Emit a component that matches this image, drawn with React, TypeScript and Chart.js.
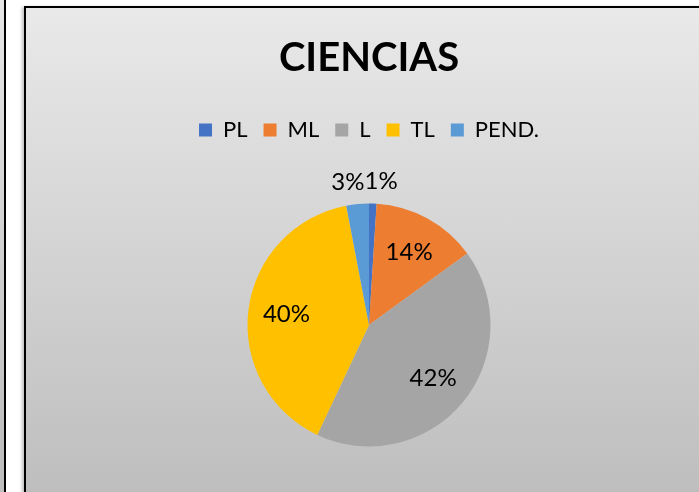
import React, { useEffect, useRef } from "react";
import { Chart, registerables } from "chart.js";

Chart.register(...registerables);

const titleText = "CIENCIAS";
const categories = ["PL", "ML", "L", "TL", "PEND."];
const values = [1, 14, 42, 40, 3];
const colors = ["#4472C4", "#ED7D31", "#A5A5A5", "#FFC000", "#5B9BD5"];

const FONT = "Lato, 'Open Sans', sans-serif";

const labelPlugin = {
  id: "pctLabels",
  afterDatasetsDraw(chart: any) {
    const ctx = chart.ctx;
    const meta = chart.getDatasetMeta(0);
    const data = chart.data.datasets[0].data as number[];
    const total = data.reduce((a, b) => a + b, 0);
    ctx.save();
    ctx.font = `24px ${FONT}`;
    ctx.fillStyle = "#000";
    ctx.textBaseline = "middle";
    ctx.textAlign = "center";
    const outside: any[] = [];
    meta.data.forEach((arc: any, i: number) => {
      const { x, y, startAngle, endAngle, outerRadius } = arc.getProps(
        ["x", "y", "startAngle", "endAngle", "outerRadius"],
        true
      );
      const pct = Math.round((data[i] / total) * 100);
      const text = pct + "%";
      const mid = (startAngle + endAngle) / 2;
      if (pct >= 5) {
        const r = outerRadius * 0.685;
        ctx.fillText(text, x + Math.cos(mid) * r, y + Math.sin(mid) * r);
      } else {
        const r = outerRadius + 22;
        const w = ctx.measureText(text).width;
        outside.push({ text, cx: x + Math.cos(mid) * r, cy: y + Math.sin(mid) * r, w });
      }
    });
    outside.sort((a, b) => a.cx - b.cx);
    for (let k = 1; k < outside.length; k++) {
      const a = outside[k - 1];
      const b = outside[k];
      if (Math.abs(a.cy - b.cy) < 24) {
        const need = (a.w + b.w) / 2 - (b.cx - a.cx);
        if (need > 0) {
          a.cx -= need / 2;
          b.cx += need / 2;
        }
      }
    }
    outside.forEach((o) => ctx.fillText(o.text, o.cx, o.cy));
    ctx.restore();
  },
};

const legendGap = {
  id: "legendGap",
  beforeInit(chart: any) {
    const legend = chart.legend;
    if (!legend) return;
    const origFit = legend.fit;
    legend.fit = function () {
      origFit.call(this);
      this.height += 52.5;
    };
  },
};

const grad = "linear-gradient(to bottom, #e9e9e9 0px, #bebebe 484px)";

export default function App() {
  const ref = useRef<HTMLCanvasElement | null>(null);

  useEffect(() => {
    if (!ref.current) return;
    const chart = new Chart(ref.current, {
      type: "pie",
      data: {
        labels: categories,
        datasets: [
          {
            data: values,
            backgroundColor: colors,
            borderWidth: 0,
          },
        ],
      },
      options: {
        responsive: false,
        animation: false,
        layout: { padding: { top: 0, bottom: 45.5, left: 0, right: 0 } },
        plugins: {
          title: {
            display: true,
            text: titleText,
            color: "#000",
            font: { family: FONT, size: 40, weight: "bold" },
            padding: { top: 26, bottom: 21 },
          },
          legend: {
            display: true,
            position: "top",
            labels: {
              boxWidth: 13,
              boxHeight: 13,
              padding: 16,
              color: "#000",
              font: { family: FONT, size: 22 },
            },
          },
          tooltip: { enabled: false },
        },
      },
      plugins: [legendGap, labelPlugin],
    } as any);
    return () => chart.destroy();
  }, []);

  return (
    <div
      style={{
        position: "absolute",
        left: 0,
        top: 0,
        width: 699,
        height: 492,
        overflow: "hidden",
        background: "#fff",
      }}
    >
      <div
        style={{
          position: "absolute",
          left: -40,
          top: -40,
          width: 42,
          height: 700,
          border: "2px solid #000",
          background: grad,
        }}
      />
      <div
        style={{
          position: "absolute",
          left: 24,
          top: 6,
          width: 720,
          height: 600,
          border: "2px solid #000",
          background: grad,
          boxShadow: "-2px 1px 3px rgba(0,0,0,0.25)",
        }}
      >
        <canvas
          ref={ref}
          width={686}
          height={484}
          style={{ position: "absolute", left: 0, top: 0, display: "block" }}
        />
      </div>
    </div>
  );
}
